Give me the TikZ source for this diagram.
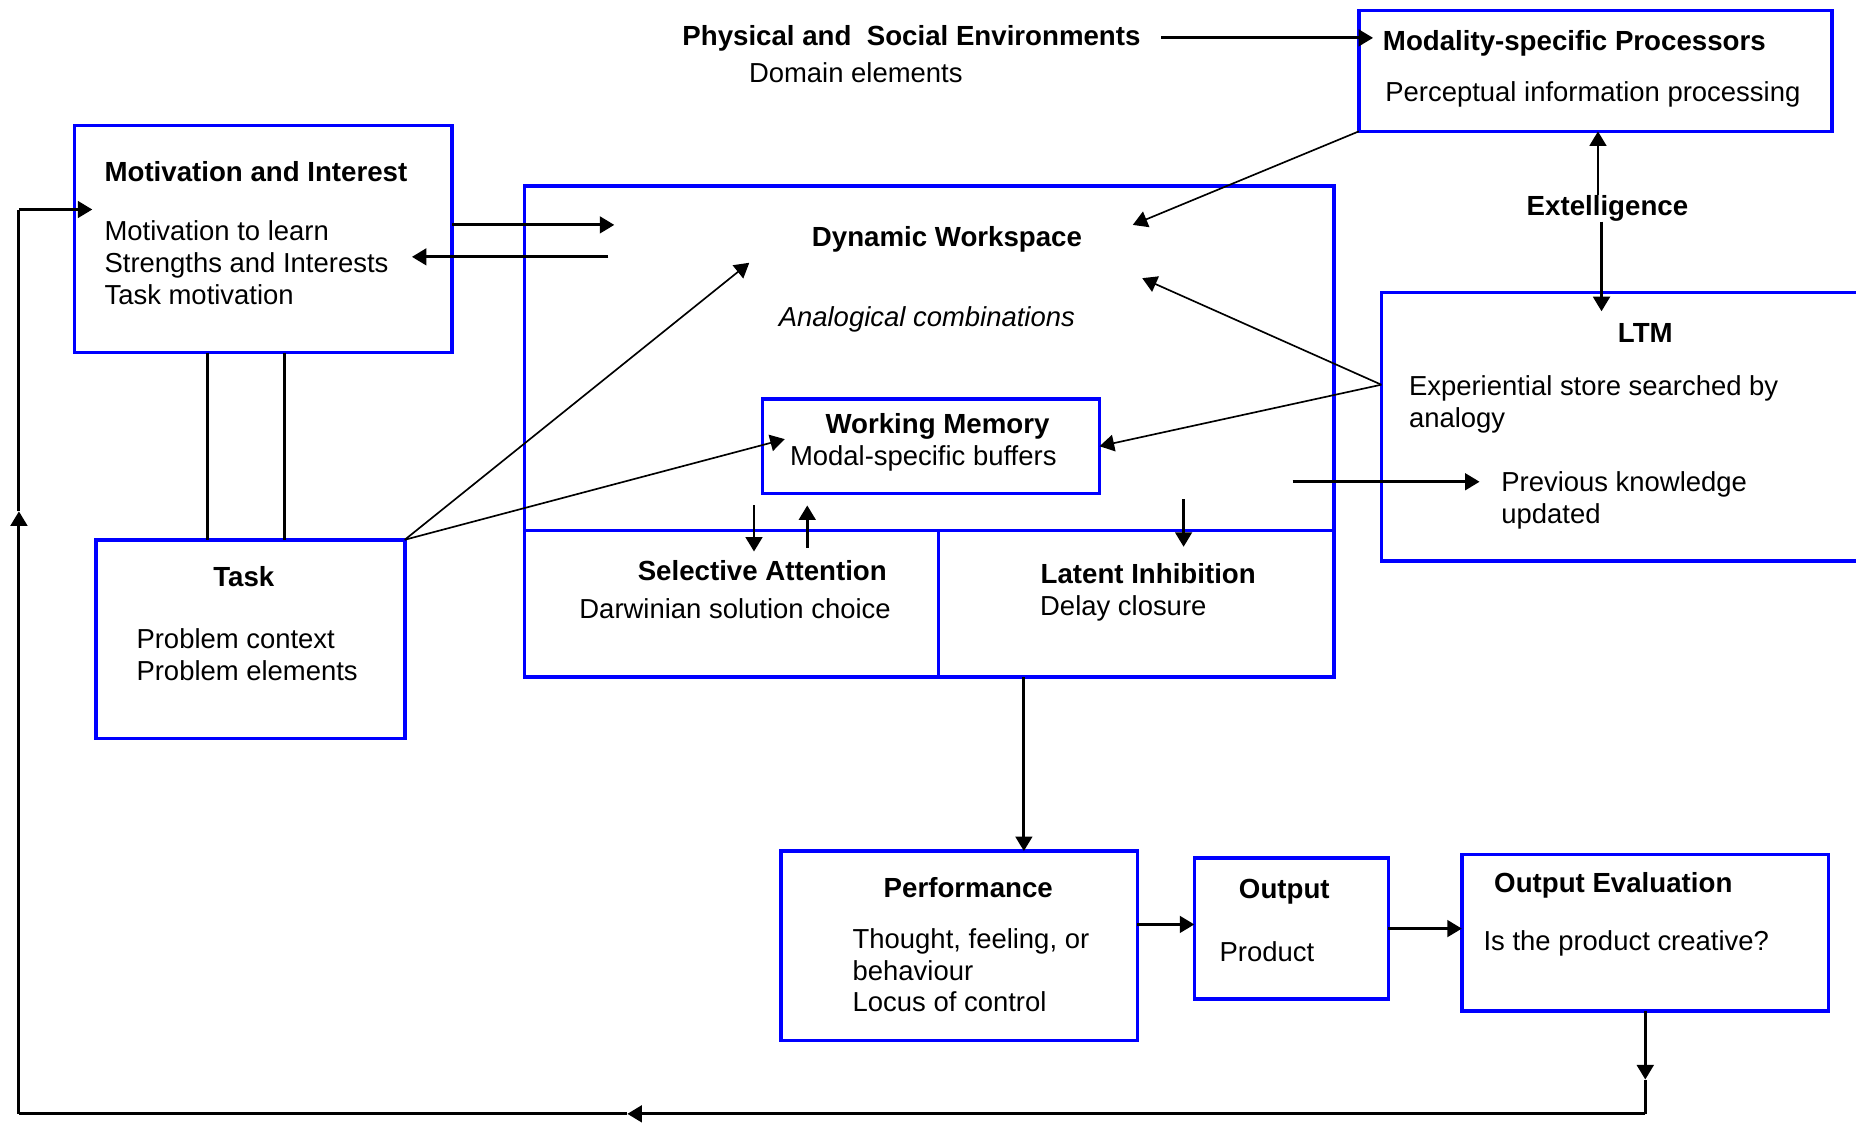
\documentclass[tikz,border=0pt]{standalone}
\usepackage{fontspec}
\setmainfont{Liberation Sans}
\usetikzlibrary{arrows.meta}
\tikzset{
  box/.style={draw=blue, line width=1.7pt, anchor=north west, inner sep=0pt, outer sep=0pt},
  boxline/.style={draw=blue, line width=1.7pt},
  txt/.style={font=\fontsize{13.2}{15.3}\selectfont, inner sep=0pt, align=left},
  ttl/.style={font=\fontsize{13.3}{15.3}\selectfont\bfseries, inner sep=0pt},
  arr/.style={-{Triangle[length=7pt,width=8pt]}, line width=1.4pt},
  ln/.style={line width=1.4pt},
  thinarr/.style={-{Triangle[length=7pt,width=8pt]}, line width=0.8pt},
}
\begin{document}
\begin{tikzpicture}[x=0.02cm,y=-0.02cm]
  \useasboundingbox (0,0) rectangle (1568,950);

  % boxes
  \node[box, minimum width=6.38cm, minimum height=3.84cm] (motiv) at (63,106) {};
  \node[box, minimum width=13.68cm, minimum height=8.30cm] (work) at (443,157) {};
  \node[box, minimum width=5.70cm, minimum height=1.60cm] (wm) at (644,337) {};
  \node[box, minimum width=5.22cm, minimum height=3.36cm] (task) at (81,456) {};
  \node[box, minimum width=8.00cm, minimum height=2.04cm] (modal) at (1148,9) {};
  \node[box, minimum width=8.80cm, minimum height=4.54cm] (ltm) at (1167,247) {};
  \node[box, minimum width=6.02cm, minimum height=3.20cm] (perf) at (660,719) {};
  \node[box, minimum width=3.28cm, minimum height=2.38cm] (out) at (1009,725) {};
  \node[box, minimum width=6.20cm, minimum height=2.64cm] (eval) at (1235,722) {};
  \draw[boxline] (443,448) -- (1127,448);
  \draw[boxline] (793,448) -- (793,572);

  % texts
  \node[ttl] (phys) at (770,32) {Physical and\ \ Social Environments};
  \node[txt] (domain) at (723,61) {Domain elements};
  \node[ttl, anchor=west] (modaltitle) at (1168,37) {Modality-specific Processors};
  \node[txt, anchor=west] (percept) at (1170,80) {Perceptual information processing};
  \node[ttl, anchor=west] (motivtitle) at (88,145) {Motivation and Interest};
  \node[txt, anchor=north west] (motivtext) at (88,186)
    {Motivation to learn\\Strengths and Interests\\Task motivation};
  \node[ttl] (dwtitle) at (800,202) {Dynamic Workspace};
  \node[txt, font=\fontsize{13.2}{15.3}\selectfont\itshape] (analog) at (783,270) {Analogical combinations};
  \node[ttl] (wmtitle) at (792,360) {Working Memory};
  \node[txt] (buffers) at (780,387) {Modal-specific buffers};
  \node[ttl] (seltitle) at (644,482) {Selective Attention};
  \node[txt] (darwin) at (621,514) {Darwinian solution choice};
  \node[ttl] (lattitle) at (970,485) {Latent Inhibition};
  \node[txt] (delay) at (949,514) {Delay closure};
  \node[ttl] (tasktitle) at (206,487) {Task};
  \node[txt, anchor=north west] (tasktext) at (115,531)
    {Problem context\\Problem elements};
  \node[ttl] (extel) at (1358,176) {Extelligence};
  \node[ttl] (ltmtitle) at (1390,281) {LTM};
  \node[txt, anchor=north west] (store) at (1190,317)
    {Experiential store searched by\\analogy};
  \node[txt, anchor=north west] (prev) at (1268,398)
    {Previous knowledge\\updated};
  \node[ttl] (perftitle) at (818,750) {Performance};
  \node[txt, anchor=north west] (thought) at (720,784)
    {Thought, feeling, or\\behaviour\\Locus of control};
  \node[ttl] (outtitle) at (1085,753) {Output};
  \node[txt, anchor=west] (product) at (1030,804) {Product};
  \node[ttl, anchor=west] (evaltitle) at (1262,748) {Output Evaluation};
  \node[txt, anchor=west] (creative) at (1253,797) {Is the product creative?};

  % points inside the workspace
  \coordinate (dwA) at (957,190);
  \coordinate (dwB) at (519,190);
  \coordinate (dwC) at (514,217);
  \coordinate (motivin) at (348,217);
  \coordinate (dwD) at (633,222);
  \coordinate (dwE) at (965,235);
  \coordinate (wmin) at (663,371);
  \coordinate (ltmA) at (1167,325);
  \coordinate (ltmB) at (1092,407);
  \coordinate (previn) at (1250,407);
  \coordinate (wsout) at (865,572);

  % connectors
  \draw[arr] ([xshift=0.34cm]phys.east) -- ([xshift=0.24cm]modal.west |- phys.east);
  \draw[thinarr] (modal.south west) -- (dwA);
  \draw[arr] ([xshift=-0.16cm]extel.north) -- ([xshift=-0.16cm]extel.north |- modal.south);
  \draw[arr] ([xshift=-0.1cm]extel.south) -- ([xshift=-0.1cm,yshift=-0.32cm]extel.south |- ltm.north);
  \draw[thinarr] (ltmA) -- (dwE);
  \draw[thinarr] (ltmA) -- (wm.east);
  \draw[arr] (ltmB) -- (previn);
  \draw[arr] (motiv.east |- dwB) -- (dwB);
  \draw[arr] (dwC) -- (motivin);
  \draw[ln] ([xshift=-0.95cm]motiv.south) -- ([xshift=-0.95cm]motiv.south |- task.north);
  \draw[ln] ([xshift=0.35cm]motiv.south) -- ([xshift=0.35cm]motiv.south |- task.north);
  \draw[thinarr] (task.north east) -- (dwD);
  \draw[thinarr] (task.north east) -- (wmin);
  \draw[arr] ([xshift=-2.99cm,yshift=-0.2cm]wm.south) -- ([xshift=-2.99cm,yshift=-0.98cm]wm.south);
  \draw[arr] ([xshift=-2.09cm,yshift=-0.92cm]wm.south) -- ([xshift=-2.09cm,yshift=-0.2cm]wm.south);
  \draw[arr] ([xshift=4.27cm,yshift=-0.1cm]wm.south) -- ([xshift=4.27cm,yshift=-0.9cm]wm.south);
  \draw[arr] (wsout) -- (wsout |- perf.north);
  \draw[arr] ([yshift=0.36cm]perf.east) -- ([yshift=0.36cm]perf.east -| out.west);
  \draw[arr] (out.east) -- (out.east -| eval.west);

  % feedback loop
  \coordinate (fbC) at (530,941);
  \coordinate (fbB) at (eval.south |- fbC);
  \coordinate (fbA) at ([yshift=0.58cm]fbB);
  \coordinate (fbD) at (16,941);
  \coordinate (fbE) at (16,432);
  \coordinate (fbF) at (16,177);
  \draw[arr] (eval.south) -- (fbA);
  \draw[ln] (fbA) -- (fbB);
  \draw[arr] (fbB) -- (fbC);
  \draw[ln] (fbC) -- (fbD);
  \draw[arr] (fbD) -- (fbE);
  \draw[ln] (fbE) -- (fbF);
  \draw[arr] (fbF) -- ([xshift=0.3cm]motiv.west |- fbF);
\end{tikzpicture}
\end{document}
